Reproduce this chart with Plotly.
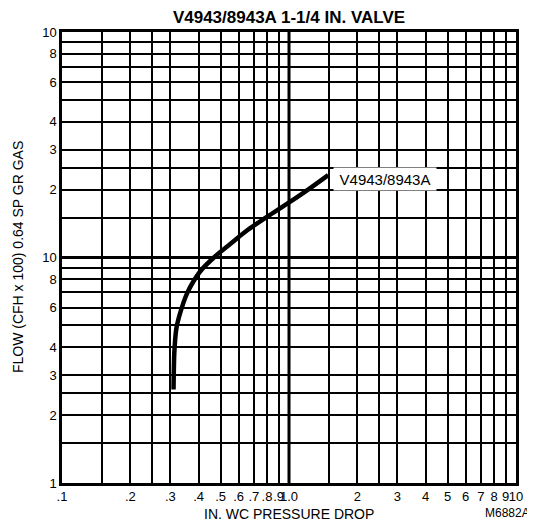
import plotly.graph_objects as go

# ---- data ----
pressure_drop = [0.310, 0.311, 0.313, 0.320, 0.342, 0.356, 0.374, 0.411, 0.471, 0.556, 0.657, 0.803, 1.013, 1.218, 1.488]
flow = [2.6, 3.2, 3.9, 4.93, 6.26, 6.95, 7.65, 8.8, 10.08, 11.56, 13.24, 15.17, 17.68, 20.06, 23.2]

x_grid = [0.1, 0.15, 0.2, 0.25, 0.3, 0.4, 0.5, 0.6, 0.7, 0.8, 0.9,
          1, 1.5, 2, 2.5, 3, 4, 5, 6, 7, 8, 9, 10]
x_labels = {0.1: ".1", 0.2: ".2", 0.3: ".3", 0.4: ".4", 0.5: ".5", 0.6: ".6",
            0.7: ".7", 0.8: ".8", 0.9: ".9", 1: "1.0", 2: "2", 3: "3", 4: "4",
            5: "5", 6: "6", 7: "7", 8: "8", 9: "9", 10: "10"}
y_grid = [1, 1.5, 2, 2.5, 3, 4, 5, 6, 7, 8, 9,
          10, 15, 20, 25, 30, 40, 50, 60, 70, 80, 90, 100]
y_labels = {1: "1", 2: "2", 3: "3", 4: "4", 6: "6", 8: "8", 10: "10",
            20: "2", 30: "3", 40: "4", 60: "6", 80: "8", 100: "10"}
heavy_x = 1
heavy_y = 10

title_text = "V4943/8943A 1-1/4 IN. VALVE"
series_name = "V4943/8943A"
x_title = "IN. WC PRESSURE DROP"
y_title = "FLOW (CFH x 100) 0.64 SP GR GAS"
drawing_no = "M6882A"

FONT = "Liberation Sans, Arial, Helvetica, sans-serif"

# page body has an 8px default margin -> figure is sized/offset to compensate
FIG_W, FIG_H = 527, 515

fig = go.Figure()
fig.add_trace(go.Scatter(
    x=pressure_drop, y=flow, mode="lines",
    line=dict(color="black", width=4.5, shape="spline", smoothing=1.0),
    showlegend=False, hoverinfo="skip"))

axis_common = dict(
    type="log", showgrid=True, gridcolor="black", gridwidth=1.5,
    showline=True, linecolor="black", linewidth=2.5, mirror=True,
    ticks="", zeroline=False, tickangle=0,
    tickfont=dict(family=FONT, size=13, color="black"),
)

fig.update_xaxes(range=[-1, 1], tickmode="array", tickvals=x_grid,
                 ticktext=[x_labels.get(v, "") for v in x_grid], **axis_common)
fig.update_yaxes(range=[0, 2], tickmode="array", tickvals=y_grid,
                 ticktext=[y_labels.get(v, "") for v in y_grid], **axis_common)

fig.add_shape(type="line", xref="x", yref="paper", x0=heavy_x, x1=heavy_x, y0=0, y1=1,
              line=dict(color="black", width=3), layer="below")
fig.add_shape(type="line", xref="paper", yref="y", x0=0, x1=1, y0=heavy_y, y1=heavy_y,
              line=dict(color="black", width=3), layer="below")

fig.add_annotation(text=series_name, xref="paper", yref="paper", x=0.7109, y=0.673,
                   xanchor="center", yanchor="middle", showarrow=False,
                   bgcolor="white", width=102, height=22, borderpad=0,
                   font=dict(family=FONT, size=15, color="black"))

fig.add_annotation(text=x_title, xref="paper", yref="paper", x=0.5, y=-0.069,
                   xanchor="center", yanchor="middle", showarrow=False,
                   font=dict(family=FONT, size=14, color="black"))
fig.add_annotation(text=y_title, xref="paper", yref="paper", x=-0.0978, y=0.5,
                   xanchor="center", yanchor="middle", showarrow=False, textangle=-90,
                   font=dict(family=FONT, size=14, color="black"))
fig.add_annotation(text=drawing_no, xref="paper", yref="paper", x=1.035, y=-0.0665,
                   xanchor="right", yanchor="middle", showarrow=False,
                   font=dict(family=FONT, size=12, color="black"))

fig.update_layout(
    width=FIG_W, height=FIG_H, autosize=False,
    margin=dict(l=54, r=13, t=24, b=40),
    paper_bgcolor="white", plot_bgcolor="white",
    title=dict(text="<b>" + title_text + "</b>", x=0.5, xref="paper",
               y=1 - 9.5 / FIG_H, yanchor="middle",
               font=dict(family=FONT, size=17, color="black")),
    font=dict(family=FONT, color="black"),
)

fig.write_html("out.html")
